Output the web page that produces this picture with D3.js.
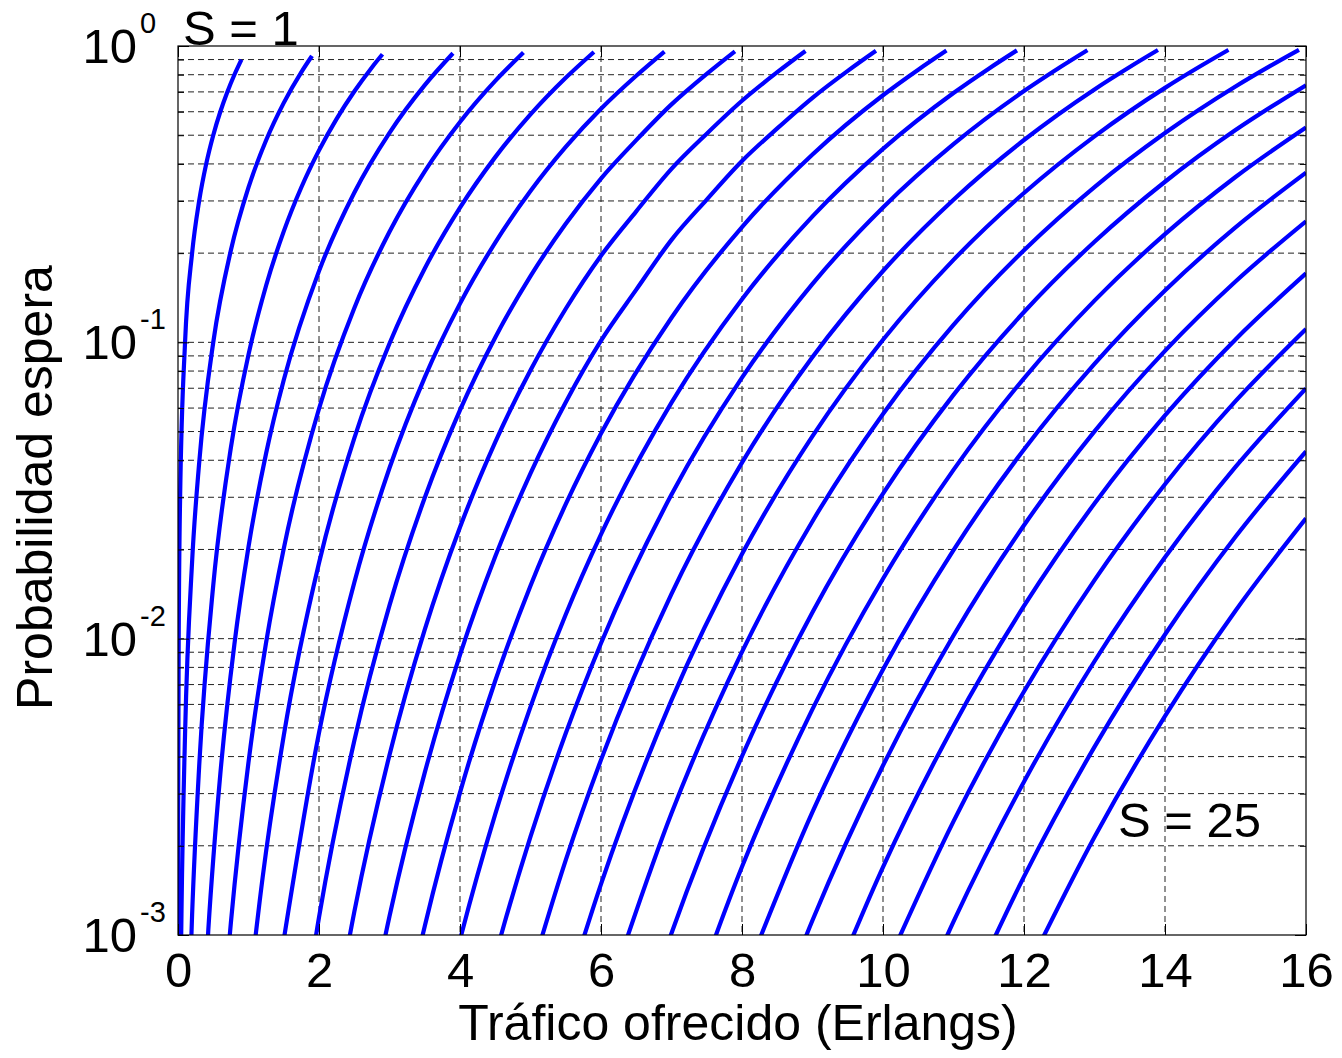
<!DOCTYPE html>
<html>
<head>
<meta charset="utf-8">
<script src="https://cdn.jsdelivr.net/npm/d3@7"></script>
<style>
  body { margin: 0; background: #fff; }
  svg { display: block; font-family: "Liberation Sans", Arial, Helvetica, sans-serif; }
</style>
</head>
<body>
<svg></svg>
<script>
// number of servers for each curve
var servers = d3.range(1, 26);

// [traffic in Erlangs, probability of waiting], S = 1 .. 25
var curves = [
  [[0.0005,0.0005],[0.001,0.001],[0.003,0.003],[0.01,0.01],[0.03,0.03],[0.1,0.1],[0.2,0.2],[0.3,0.3],[0.4,0.4],[0.5,0.5],[0.6,0.6],[0.7,0.7],[0.8,0.8],[0.9,0.9]],
  [[0.03,0.000443],[0.04,0.000784],[0.05,0.00122],[0.1,0.00476],[0.2,0.01818],[0.3,0.03913],[0.5,0.1],[0.75,0.2045],[1,0.3333],[1.25,0.4808],[1.5,0.6429],[1.75,0.8167],[1.9,0.9256]],
  [[0.15,0.00051],[0.2,0.00117],[0.3,0.0037],[0.5,0.01515],[0.75,0.04412],[1,0.0909],[1.25,0.1555],[1.5,0.2368],[1.75,0.3337],[2,0.4444],[2.25,0.5678],[2.5,0.7022],[2.75,0.8467],[2.9,0.9378]],
  [[0.35,0.000483],[0.43,0.00104],[0.6,0.003486],[0.8,0.00958],[1,0.0204],[1.25,0.04222],[1.5,0.07459],[2,0.1739],[2.5,0.3199],[3,0.5094],[3.5,0.7379],[3.9,0.9452]],
  [[0.7,0.000809],[0.75,0.0011],[1,0.00383],[1.25,0.00971],[1.5,0.02014],[2,0.0597],[2.5,0.1304],[3,0.2362],[3.5,0.3778],[4,0.5541],[4.5,0.7625],[4.9,0.9503]],
  [[1,0.000613],[1.2,0.001561],[1.5,0.004706],[2,0.018],[2.5,0.04745],[3,0.0991],[3.5,0.1775],[4,0.2848],[4.5,0.4217],[5,0.5875],[5.5,0.7809],[5.9,0.9543]],
  [[1.5,0.000963],[2,0.00481],[2.5,0.01544],[3,0.03765],[3.5,0.0762],[4,0.1351],[4.5,0.2172],[5,0.3241],[5.5,0.4565],[6,0.6138],[6.5,0.7934],[6.9,0.9573]],
  [[1.5,0.000175],[2,0.001146],[2.5,0.004517],[3,0.01295],[3.5,0.02989],[4,0.05904],[4.5,0.1039],[5,0.1673],[5.5,0.2512],[6,0.357],[6.5,0.4811],[7,0.6353],[7.5,0.8056],[7.9,0.9598]],
  [[2,0.000246],[2.5,0.001195],[3,0.00405],[3.5,0.01072],[4,0.02376],[4.5,0.04605],[5,0.0805],[5.5,0.1298],[6,0.196],[6.5,0.2768],[7,0.3849],[7.5,0.5059],[8,0.6533],[8.5,0.8158],[8.9,0.962]],
  [[2.5,0.000288],[3,0.001157],[3.5,0.003531],[4,0.008815],[4.5,0.01892],[5,0.03611],[5.5,0.06279],[6,0.1013],[6.5,0.1506],[7,0.2217],[7.5,0.3032],[8,0.4092],[8.5,0.5271],[9,0.6687],[9.5,0.8245],[9.9,0.9637]],
  [[3,0.000304],[3.5,0.001071],[4,0.003024],[4.5,0.007212],[5,0.01509],[5.5,0.02843],[6,0.04922],[7,0.1211],[8,0.245],[9,0.4305],[10,0.6821],[10.5,0.8319],[10.9,0.9653]],
  [[3.5,0.000301],[4,0.000962],[4.5,0.002558],[5,0.005886],[5.5,0.01206],[6,0.02247],[7,0.06262],[8,0.1398],[9,0.266],[10,0.4494],[11,0.6939],[11.5,0.8385],[11.9,0.9667]],
  [[4,0.000285],[4.5,0.000847],[5,0.002146],[5.5,0.004792],[6,0.009647],[7,0.03063],[8,0.076],[9,0.1575],[10,0.2853],[11,0.4664],[12,0.7044],[12.5,0.8443],[12.9,0.9679]],
  [[5,0.000734],[5.5,0.001789],[6,0.003899],[7,0.01417],[8,0.03928],[9,0.08918],[10,0.1741],[11,0.3029],[12,0.4817],[13,0.7138],[13.5,0.8495],[13.9,0.969]],
  [[5.5,0.000629],[6,0.001485],[7,0.006204],[8,0.0193],[9,0.04823],[10,0.102],[11,0.1898],[12,0.3192],[13,0.4957],[14,0.7223],[14.5,0.8542],[14.9,0.97]],
  [[6,0.000535],[7,0.002575],[8,0.009019],[9,0.02491],[10,0.05734],[11,0.1145],[12,0.2046],[13,0.3343],[14,0.5085],[15,0.7301],[15.5,0.8585],[15.9,0.9708]],
  [[6,0.000182],[7,0.001014],[8,0.00401],[9,0.01228],[10,0.03088],[11,0.06649],[12,0.1266],[13,0.2185],[14,0.3483],[15,0.5203],[16,0.7372]],
  [[7,0.00038],[8,0.001699],[9,0.005784],[10,0.01593],[11,0.03711],[12,0.07561],[13,0.1383],[14,0.2317],[15,0.3613],[16,0.5312]],
  [[8,0.000686],[9,0.002603],[10,0.007873],[11,0.0199],[12,0.04352],[13,0.08465],[14,0.1496],[15,0.2442],[16,0.3736]],
  [[8,0.000265],[9,0.001121],[10,0.003731],[11,0.01025],[12,0.02413],[13,0.05006],[14,0.09356],[15,0.1604],[16,0.2561]],
  [[9,0.000463],[10,0.001696],[11,0.005078],[12,0.01289],[13,0.02859],[14,0.05667],[15,0.1023],[16,0.1709]],
  [[10,0.00074],[11,0.002419],[12,0.006635],[13,0.01576],[14,0.03321],[15,0.06331],[16,0.1109]],
  [[10,0.000311],[11,0.001109],[12,0.003291],[13,0.008391],[14,0.01883],[15,0.03797],[16,0.06994]],
  [[11,0.00049],[12,0.001574],[13,0.004313],[14,0.01033],[15,0.02207],[16,0.04284]],
  [[12,0.000727],[13,0.002142],[14,0.00548],[15,0.01243],[16,0.02546]]
];

var xTicks = [0, 2, 4, 6, 8, 10, 12, 14, 16];
var yDecades = [1e-3, 1e-2, 1e-1, 1];
var yExponents = ["-3", "-2", "-1", "0"];
var curveLabels = ["S = 1", "S = 25"];
var xTitle = "Tráfico ofrecido (Erlangs)";
var yTitle = "Probabilidad espera";

var W = 1342, H = 1058;
var margin = { left: 178, top: 46, right: 36, bottom: 123 };
var width = W - margin.left - margin.right;
var height = H - margin.top - margin.bottom;
var fontSize = 49;
var titleSize = 50;

var svg = d3.select("svg").attr("width", W).attr("height", H);
var g = svg.append("g").attr("transform", "translate(" + margin.left + "," + margin.top + ")");

var x = d3.scaleLinear().domain([0, 16]).range([0, width]);
var y = d3.scaleLog().domain([1e-3, 1]).range([height, 0]);

// minor log ticks 2..9 in every decade
var yMinor = [];
yDecades.slice(0, 3).forEach(function(d) {
  for (var m = 2; m <= 9; m++) yMinor.push(d * m);
});

// grid (dashed)
var grid = g.append("g").attr("stroke", "#222").attr("stroke-width", 1).attr("stroke-dasharray", "6,4");
grid.selectAll("line.gx")
  .data(xTicks.slice(1, -1)).enter()
  .append("line")
  .attr("x1", function(d) { return x(d); })
  .attr("x2", function(d) { return x(d); })
  .attr("y1", 0).attr("y2", height);
grid.selectAll("line.gy")
  .data(yMinor.concat(yDecades.slice(1, 3))).enter()
  .append("line")
  .attr("x1", 0).attr("x2", width)
  .attr("y1", function(d) { return y(d); })
  .attr("y2", function(d) { return y(d); });

// curves
svg.append("clipPath").attr("id", "plotClip")
  .append("rect").attr("width", width).attr("height", height);

var line = d3.line()
  .x(function(d) { return x(d[0]); })
  .y(function(d) { return y(d[1]); })
  .curve(d3.curveMonotoneX);

g.append("g").attr("clip-path", "url(#plotClip)")
  .selectAll("path")
  .data(curves).enter()
  .append("path")
  .attr("d", line)
  .attr("fill", "none")
  .attr("stroke", "#0000ff")
  .attr("stroke-width", 4.2)
  .attr("stroke-linejoin", "round");

// axes: ticks drawn inside on all four sides
function styleAxis(sel) {
  sel.select(".domain").remove();
  sel.selectAll(".tick line").attr("stroke", "#000").attr("stroke-width", 1);
}

g.append("g")
  .attr("transform", "translate(0," + height + ")")
  .call(d3.axisBottom(x).tickValues(xTicks).tickSizeInner(-11).tickSizeOuter(0).tickPadding(17))
  .call(styleAxis)
  .selectAll("text")
  .attr("font-size", fontSize)
  .attr("font-family", "Liberation Sans, Arial, sans-serif")
  .attr("fill", "#000");

g.append("g")
  .call(d3.axisTop(x).tickValues(xTicks).tickSizeInner(-11).tickSizeOuter(0).tickFormat(""))
  .call(styleAxis);

g.append("g")
  .call(d3.axisLeft(y).tickValues(yDecades).tickSizeInner(-11).tickSizeOuter(0).tickFormat(""))
  .call(styleAxis);
g.append("g")
  .call(d3.axisLeft(y).tickValues(yMinor).tickSizeInner(-6).tickSizeOuter(0).tickFormat(""))
  .call(styleAxis);
g.append("g")
  .attr("transform", "translate(" + width + ",0)")
  .call(d3.axisRight(y).tickValues(yDecades).tickSizeInner(-11).tickSizeOuter(0).tickFormat(""))
  .call(styleAxis);
g.append("g")
  .attr("transform", "translate(" + width + ",0)")
  .call(d3.axisRight(y).tickValues(yMinor).tickSizeInner(-6).tickSizeOuter(0).tickFormat(""))
  .call(styleAxis);

// box
g.append("rect")
  .attr("width", width).attr("height", height)
  .attr("fill", "none").attr("stroke", "#000").attr("stroke-width", 1.2);

// y tick labels as 10^n
var ylab = g.append("g").attr("fill", "#000");
ylab.selectAll("text.base")
  .data(yDecades).enter()
  .append("text")
  .attr("x", -41)
  .attr("y", function(d) { return y(d) + 17; })
  .attr("text-anchor", "end")
  .attr("font-size", fontSize)
  .text("10");
ylab.selectAll("text.exp")
  .data(yDecades).enter()
  .append("text")
  .attr("x", -38)
  .attr("y", function(d) { return y(d) - 13; })
  .attr("font-size", 29)
  .text(function(d, i) { return yExponents[i]; });

// axis titles
svg.append("text")
  .attr("x", margin.left + width / 2 - 4)
  .attr("y", 1040)
  .attr("text-anchor", "middle")
  .attr("font-size", titleSize)
  .text(xTitle);

svg.append("text")
  .attr("transform", "translate(52," + (margin.top + height / 2 - 3) + ") rotate(-90)")
  .attr("text-anchor", "middle")
  .attr("font-size", titleSize)
  .text(yTitle);

// curve annotations
svg.append("text")
  .attr("x", 183).attr("y", 45)
  .attr("font-size", fontSize)
  .text(curveLabels[0]);
svg.append("text")
  .attr("x", 1118).attr("y", 837)
  .attr("font-size", fontSize)
  .text(curveLabels[1]);
</script>
</body>
</html>
